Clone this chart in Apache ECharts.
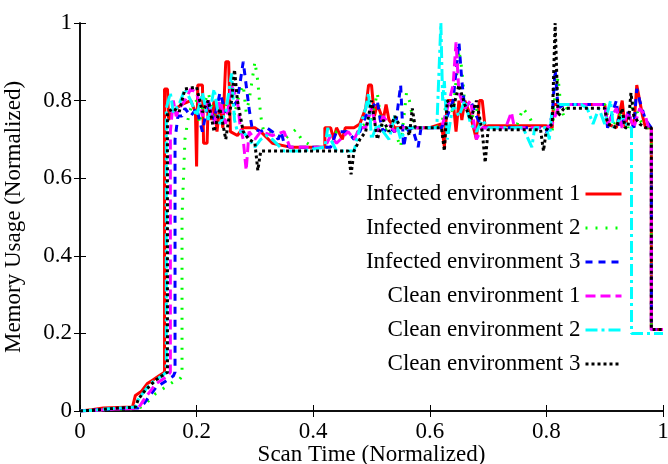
<!DOCTYPE html>
<html><head><meta charset="utf-8">
<script src="https://cdn.jsdelivr.net/npm/echarts@6/dist/echarts.min.js"></script>
<style>html,body{margin:0;padding:0;background:#fff}#c{width:668px;height:464px}</style>
</head><body><div id="c"></div>
<script>
const seriesNames = ["Infected environment 1","Infected environment 2","Infected environment 3","Clean environment 1","Clean environment 2","Clean environment 3"];
const xTicks = [0,0.2,0.4,0.6,0.8,1];
const yTicks = [0,0.2,0.4,0.6,0.8,1];

const infected1 = [[0,0],[0.02,0.003],[0.04,0.008],[0.09,0.01],[0.095,0.04],[0.105,0.05],[0.115,0.07],[0.125,0.08],[0.135,0.09],[0.145,0.1],[0.145,0.83],[0.15,0.83],[0.152,0.75],[0.158,0.77],[0.165,0.78],[0.175,0.79],[0.19,0.8],[0.198,0.77],[0.2,0.63],[0.202,0.84],[0.21,0.84],[0.212,0.69],[0.218,0.69],[0.22,0.8],[0.225,0.75],[0.23,0.8],[0.235,0.72],[0.24,0.79],[0.245,0.73],[0.25,0.9],[0.255,0.9],[0.258,0.72],[0.27,0.71],[0.28,0.73],[0.3,0.73],[0.31,0.72],[0.33,0.69],[0.36,0.68],[0.4,0.68],[0.42,0.68],[0.42,0.73],[0.43,0.73],[0.435,0.7],[0.44,0.73],[0.45,0.7],[0.455,0.73],[0.47,0.73],[0.48,0.74],[0.49,0.78],[0.495,0.84],[0.5,0.84],[0.505,0.76],[0.51,0.79],[0.52,0.75],[0.525,0.79],[0.53,0.75],[0.54,0.73],[0.6,0.73],[0.62,0.74],[0.625,0.68],[0.63,0.8],[0.64,0.8],[0.645,0.72],[0.65,0.8],[0.655,0.75],[0.66,0.8],[0.67,0.76],[0.68,0.7],[0.685,0.8],[0.69,0.8],[0.695,0.73],[0.7,0.735],[0.8,0.735],[0.81,0.73],[0.812,0.79],[0.82,0.79],[0.9,0.79],[0.905,0.74],[0.92,0.73],[0.93,0.8],[0.935,0.73],[0.94,0.77],[0.95,0.73],[0.955,0.84],[0.96,0.8],[0.965,0.76],[0.97,0.73],[0.98,0.73],[0.98,0.21],[1,0.21]];

const infected2 = [[0,0],[0.03,0.002],[0.06,0.005],[0.1,0.006],[0.11,0.015],[0.12,0.03],[0.13,0.045],[0.14,0.055],[0.15,0.065],[0.16,0.075],[0.17,0.08],[0.175,0.09],[0.175,0.5],[0.18,0.7],[0.185,0.75],[0.19,0.78],[0.2,0.8],[0.205,0.74],[0.21,0.78],[0.22,0.82],[0.23,0.76],[0.24,0.8],[0.25,0.78],[0.26,0.84],[0.265,0.76],[0.27,0.8],[0.28,0.84],[0.285,0.77],[0.29,0.8],[0.3,0.9],[0.305,0.85],[0.31,0.76],[0.315,0.72],[0.33,0.72],[0.35,0.7],[0.37,0.725],[0.38,0.7],[0.4,0.68],[0.43,0.68],[0.44,0.72],[0.46,0.72],[0.47,0.7],[0.48,0.73],[0.5,0.75],[0.51,0.82],[0.515,0.76],[0.52,0.72],[0.53,0.73],[0.54,0.72],[0.55,0.68],[0.56,0.82],[0.565,0.8],[0.57,0.76],[0.575,0.73],[0.6,0.73],[0.61,0.73],[0.62,0.74],[0.63,0.8],[0.64,0.77],[0.65,0.93],[0.655,0.88],[0.66,0.79],[0.67,0.75],[0.68,0.78],[0.69,0.72],[0.7,0.73],[0.72,0.73],[0.74,0.73],[0.75,0.74],[0.76,0.78],[0.77,0.76],[0.78,0.73],[0.8,0.73],[0.81,0.72],[0.815,0.82],[0.82,0.86],[0.825,0.78],[0.83,0.76],[0.835,0.78],[0.84,0.79],[0.9,0.79],[0.91,0.73],[0.93,0.77],[0.94,0.73],[0.95,0.8],[0.96,0.75],[0.97,0.73],[0.98,0.73],[0.98,0.21],[1,0.21]];

const infected3 = [[0,0],[0.03,0.003],[0.06,0.006],[0.1,0.008],[0.11,0.02],[0.12,0.04],[0.13,0.06],[0.14,0.07],[0.15,0.08],[0.16,0.09],[0.163,0.1],[0.163,0.7],[0.168,0.76],[0.175,0.76],[0.18,0.78],[0.19,0.76],[0.2,0.78],[0.21,0.72],[0.22,0.8],[0.23,0.75],[0.24,0.82],[0.25,0.77],[0.26,0.78],[0.27,0.8],[0.28,0.9],[0.285,0.84],[0.29,0.78],[0.295,0.73],[0.31,0.72],[0.32,0.73],[0.33,0.72],[0.34,0.7],[0.345,0.72],[0.35,0.69],[0.36,0.68],[0.38,0.68],[0.4,0.68],[0.43,0.68],[0.44,0.72],[0.46,0.72],[0.47,0.7],[0.48,0.72],[0.49,0.76],[0.5,0.78],[0.51,0.8],[0.515,0.75],[0.52,0.72],[0.53,0.73],[0.54,0.72],[0.55,0.84],[0.555,0.68],[0.56,0.72],[0.57,0.73],[0.58,0.68],[0.585,0.73],[0.62,0.73],[0.63,0.76],[0.64,0.8],[0.65,0.95],[0.655,0.85],[0.66,0.78],[0.67,0.8],[0.68,0.76],[0.69,0.73],[0.7,0.73],[0.79,0.73],[0.8,0.72],[0.81,0.76],[0.815,0.88],[0.82,0.78],[0.83,0.79],[0.9,0.79],[0.905,0.73],[0.92,0.8],[0.925,0.73],[0.94,0.77],[0.95,0.73],[0.955,0.83],[0.96,0.8],[0.97,0.75],[0.98,0.73],[0.98,0.21],[1,0.21]];

const clean1 = [[0,0],[0.03,0.002],[0.06,0.005],[0.1,0.007],[0.11,0.03],[0.12,0.05],[0.13,0.07],[0.14,0.08],[0.15,0.09],[0.155,0.1],[0.155,0.72],[0.16,0.8],[0.165,0.76],[0.17,0.78],[0.18,0.8],[0.19,0.83],[0.2,0.82],[0.21,0.76],[0.22,0.8],[0.23,0.74],[0.24,0.8],[0.25,0.74],[0.26,0.84],[0.27,0.8],[0.275,0.73],[0.28,0.7],[0.285,0.62],[0.29,0.72],[0.3,0.7],[0.31,0.72],[0.33,0.71],[0.35,0.72],[0.36,0.68],[0.38,0.68],[0.42,0.68],[0.43,0.71],[0.44,0.69],[0.46,0.72],[0.47,0.7],[0.48,0.73],[0.49,0.73],[0.5,0.78],[0.51,0.72],[0.52,0.76],[0.53,0.74],[0.54,0.72],[0.55,0.73],[0.6,0.73],[0.62,0.73],[0.63,0.78],[0.64,0.84],[0.645,0.95],[0.65,0.82],[0.66,0.78],[0.67,0.8],[0.68,0.7],[0.69,0.73],[0.7,0.73],[0.73,0.73],[0.74,0.77],[0.745,0.73],[0.8,0.73],[0.81,0.74],[0.82,0.78],[0.83,0.79],[0.9,0.79],[0.905,0.74],[0.92,0.78],[0.93,0.73],[0.94,0.77],[0.95,0.73],[0.96,0.78],[0.97,0.76],[0.975,0.73],[0.98,0.73],[0.98,0.21],[1,0.21]];

const clean2 = [[0,0],[0.03,0.003],[0.06,0.007],[0.095,0.01],[0.1,0.03],[0.11,0.05],[0.12,0.07],[0.13,0.08],[0.14,0.09],[0.148,0.1],[0.148,0.78],[0.155,0.82],[0.16,0.77],[0.17,0.79],[0.18,0.83],[0.19,0.8],[0.2,0.76],[0.21,0.82],[0.22,0.75],[0.23,0.83],[0.24,0.74],[0.25,0.77],[0.26,0.87],[0.265,0.75],[0.27,0.72],[0.28,0.72],[0.29,0.7],[0.3,0.68],[0.31,0.7],[0.32,0.71],[0.33,0.7],[0.35,0.67],[0.38,0.67],[0.42,0.68],[0.425,0.73],[0.43,0.7],[0.44,0.67],[0.47,0.67],[0.48,0.73],[0.49,0.78],[0.495,0.82],[0.5,0.7],[0.51,0.74],[0.52,0.72],[0.53,0.7],[0.54,0.76],[0.55,0.7],[0.56,0.73],[0.6,0.73],[0.612,0.73],[0.619,1.0],[0.622,0.8],[0.625,0.85],[0.63,0.7],[0.64,0.79],[0.65,0.76],[0.66,0.8],[0.67,0.74],[0.68,0.72],[0.69,0.75],[0.7,0.73],[0.76,0.73],[0.775,0.68],[0.78,0.73],[0.8,0.73],[0.805,0.7],[0.81,0.78],[0.82,0.79],[0.86,0.79],[0.87,0.78],[0.88,0.74],[0.89,0.78],[0.9,0.74],[0.91,0.8],[0.915,0.73],[0.93,0.76],[0.94,0.73],[0.946,0.73],[0.946,0.2],[1,0.2]];

const clean3 = [[0,0],[0.03,0.003],[0.06,0.007],[0.095,0.01],[0.1,0.03],[0.11,0.05],[0.12,0.065],[0.13,0.08],[0.14,0.09],[0.15,0.1],[0.15,0.77],[0.16,0.78],[0.17,0.77],[0.18,0.83],[0.2,0.835],[0.21,0.77],[0.22,0.8],[0.23,0.72],[0.24,0.78],[0.25,0.7],[0.26,0.8],[0.265,0.88],[0.27,0.8],[0.28,0.72],[0.29,0.7],[0.3,0.69],[0.305,0.62],[0.31,0.67],[0.33,0.67],[0.38,0.67],[0.44,0.67],[0.46,0.67],[0.465,0.61],[0.47,0.67],[0.48,0.7],[0.49,0.72],[0.5,0.8],[0.51,0.7],[0.52,0.75],[0.53,0.72],[0.54,0.76],[0.55,0.73],[0.56,0.73],[0.565,0.71],[0.57,0.78],[0.575,0.73],[0.62,0.73],[0.625,0.67],[0.63,0.8],[0.64,0.78],[0.65,0.84],[0.66,0.79],[0.67,0.75],[0.68,0.8],[0.69,0.72],[0.695,0.64],[0.7,0.725],[0.79,0.725],[0.795,0.67],[0.8,0.725],[0.81,0.74],[0.815,1.0],[0.82,0.76],[0.83,0.78],[0.84,0.78],[0.9,0.78],[0.905,0.74],[0.92,0.73],[0.93,0.78],[0.935,0.73],[0.94,0.73],[0.945,0.82],[0.95,0.76],[0.96,0.74],[0.97,0.73],[0.98,0.73],[0.98,0.21],[1,0.21]];

const seriesData = [infected1, infected2, infected3, clean1, clean2, clean3];
const colors = ['#ff0000','#00ff00','#0000ff','#ff00ff','#00ffff','#000000'];
const dashes = ['solid',[2,8],[7,6],[10,5],[12,4,3,4],[3,3]];

const font = 'Liberation Serif';
const fs = 23;
const chart = echarts.init(document.getElementById('c'), null, {renderer:'canvas'});
const axisCommon = {
  type:'value', min:0, max:1, interval:0.2,
  axisLine:{show:true, lineStyle:{color:'#000', width:1.5}},
  axisTick:{show:true, inside:true, length:6, lineStyle:{color:'#000', width:1}},
  splitLine:{show:false}
};
const fmt = v => { const r = +v.toFixed(1); return String(r); };
chart.setOption({
  animation:false,
  backgroundColor:'#fff',
  grid:{left:80, top:23, right:5, bottom:53, containLabel:false, outerBoundsMode:'none'},
  legend:{
    orient:'vertical', right:40, top:177, align:'right',
    itemWidth:36, itemHeight:14, itemGap:10,
    itemStyle:{opacity:0, borderWidth:0},
    lineStyle:{width:3},
    textStyle:{fontFamily:font, fontSize:fs, color:'#000', lineHeight:24},
    data: seriesNames
  },
  xAxis:[
    Object.assign({}, axisCommon, {position:'bottom',
      name:'Scan Time (Normalized)', nameLocation:'middle', nameGap:33, nameMoveOverlap:false,
      nameTextStyle:{fontFamily:font, fontSize:fs, color:'#000', verticalAlign:'top', lineHeight:22},
      axisLabel:{fontFamily:font, fontSize:fs, color:'#000', margin:9, formatter:fmt}}),
    Object.assign({}, axisCommon, {position:'top', axisLabel:{show:false}})
  ],
  yAxis:[
    Object.assign({}, axisCommon, {position:'left',
      name:'Memory Usage (Normalized)', nameLocation:'middle', nameGap:55, nameMoveOverlap:false,
      nameTextStyle:{fontFamily:font, fontSize:fs, color:'#000'},
      axisLabel:{fontFamily:font, fontSize:fs, color:'#000', margin:8, formatter:fmt}}),
    Object.assign({}, axisCommon, {position:'right', axisLabel:{show:false}})
  ],
  series: seriesNames.map((n,i)=>({
    name:n, type:'line', data:seriesData[i], symbol:'none',
    clip:true, xAxisIndex:0, yAxisIndex:0,
    lineStyle:{color:colors[i], width:3, type:dashes[i]},
    itemStyle:{color:colors[i]}
  }))
});
</script></body></html>
